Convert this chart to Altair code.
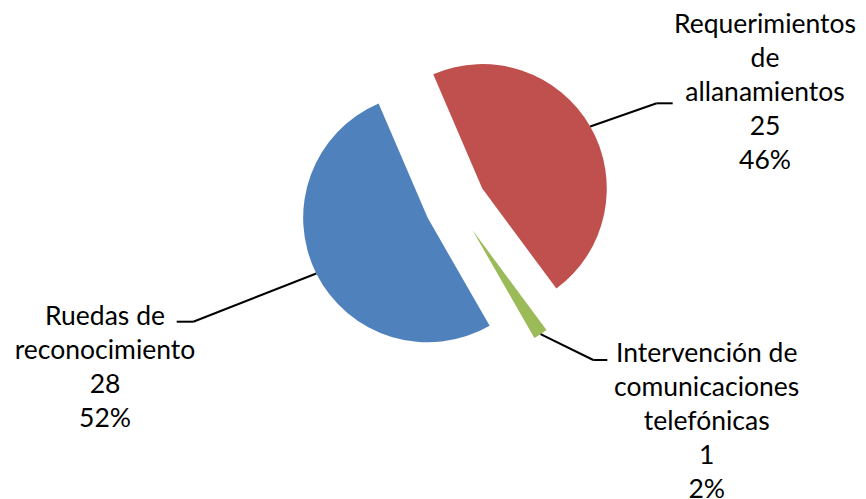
import altair as alt
import pandas as pd

# ---- data ----
categories = [
    "Requerimientos de allanamientos",
    "Intervención de comunicaciones telefónicas",
    "Ruedas de reconocimiento",
]
values = [25, 1, 28]
wrapped_names = [
    "Requerimientos\nde\nallanamientos",
    "Intervención de\ncomunicaciones\ntelefónicas",
    "Ruedas de\nreconocimiento",
]

# ---- style / layout ----
colors = ["#C0504D", "#9BBB59", "#4F81BD"]
CX, CY = 447.4, 196.0      # pie centre (px)
R = 124.5                  # pie radius (px)
EXPLODE = 31               # explosion distance (px)
START = -0.405             # first slice angle (rad)
FONT = "Lato"
FONT_SIZE = 26.5
LINE_H = 34

LAYOUT = {
    categories[0]: dict(ex=648.7, ey=95.3, hx=664.7, tx=757.0, ty=25.3),
    categories[1]: dict(ex=585.3, ey=352.0, hx=599.3, tx=698.7, ty=353.7),
    categories[2]: dict(ex=185.3, ey=313.7, hx=168.7, tx=97.0, ty=317.0),
}

df = pd.DataFrame({
    "cat": categories,
    "value": values,
    "wrapped": wrapped_names,
    "idx": list(range(len(categories))),
})
for k in ["ex", "ey", "hx", "tx", "ty"]:
    df[k] = [LAYOUT[c][k] for c in categories]

base = (
    alt.Chart(df)
    .transform_joinaggregate(total="sum(value)")
    .transform_window(cum="sum(value)", sort=[alt.SortField("idx")], frame=[None, 0])
    .transform_calculate(
        t1=f"{START} + 2*PI*datum.cum/datum.total",
        t0="datum.t1 - 2*PI*datum.value/datum.total",
        mid="(datum.t0 + datum.t1)/2",
        cx=f"{CX} + {EXPLODE}*sin(datum.mid)",
        cy=f"{CY} - {EXPLODE}*cos(datum.mid)",
        lx=f"{CX} + {EXPLODE + R}*sin(datum.mid)",
        ly=f"{CY} - {EXPLODE + R}*cos(datum.mid)",
        label="datum.wrapped + '\\n' + datum.value + '\\n' + round(100*datum.value/datum.total) + '%'",
    )
)

arcs = base.mark_arc(outerRadius=R, strokeWidth=0).encode(
    x=alt.X("cx:Q", scale=None, axis=None),
    y=alt.Y("cy:Q", scale=None, axis=None),
    theta=alt.Theta("t0:Q", scale=None),
    theta2="t1:Q",
    color=alt.Color("cat:N", scale=alt.Scale(domain=categories, range=colors), legend=None),
)

leader1 = base.mark_rule(color="black", strokeWidth=2).encode(
    x=alt.X("lx:Q", scale=None, axis=None),
    y=alt.Y("ly:Q", scale=None, axis=None),
    x2="ex:Q",
    y2="ey:Q",
)

leader2 = base.mark_rule(color="black", strokeWidth=2).encode(
    x=alt.X("ex:Q", scale=None, axis=None),
    x2="hx:Q",
    y=alt.Y("ey:Q", scale=None, axis=None),
)

labels = base.mark_text(
    font=FONT, fontSize=FONT_SIZE, lineBreak="\n", lineHeight=LINE_H,
    align="center", baseline="alphabetic", color="black",
).encode(
    x=alt.X("tx:Q", scale=None, axis=None),
    y=alt.Y("ty:Q", scale=None, axis=None),
    text="label:N",
)

chart = (
    alt.layer(arcs, leader1, leader2, labels)
    .properties(width=850, height=491, autosize="none", padding=0, background="white")
    .configure_view(stroke=None)
)

chart.save("out.html", embed_options={"renderer": "svg", "actions": False})
